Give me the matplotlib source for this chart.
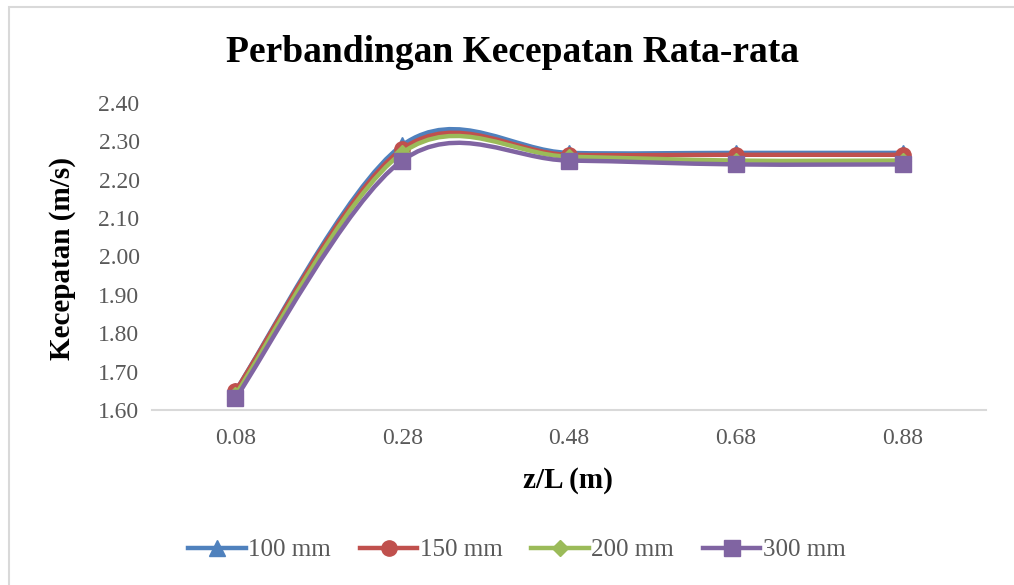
import numpy as np
import matplotlib
matplotlib.use("Agg")
import matplotlib.pyplot as plt
from matplotlib.patches import Rectangle
from matplotlib.path import Path
from matplotlib.patches import PathPatch

# Data
positions = [0.08, 0.28, 0.48, 0.68, 0.88]
tick_labels = ["0.08", "0.28", "0.48", "0.68", "0.88"]
v_100 = [1.65, 2.29, 2.27, 2.27, 2.27]
v_150 = [1.65, 2.28, 2.265, 2.265, 2.265]
v_200 = [1.64, 2.27, 2.26, 2.25, 2.25]
v_300 = [1.63, 2.25, 2.25, 2.24, 2.24]
series_names = ["100 mm", "150 mm", "200 mm", "300 mm"]

W, H = 1014, 585
fig = plt.figure(figsize=(W / 100, H / 100), dpi=100)
fig.patch.set_facecolor("white")

# outer chart frame
fig.patches.append(Rectangle((9 / W, -0.1), 1.2, 1 - 7 / H + 0.1, transform=fig.transFigure,
                             fill=False, edgecolor="#d9d9d9", linewidth=1.5))

ax = fig.add_axes([152 / W, 1 - 410 / H, (986 - 152) / W, (410 - 103) / H])
ax.set_xlim(-0.02, 0.98)
ax.set_ylim(1.60, 2.40)

serif = ["Liberation Serif", "DejaVu Serif"]
gray = "#595959"


def smooth_path(xs, ys):
    """Cubic Bezier path through points (Catmull-Rom style smoothing)."""
    pts = np.column_stack([xs, ys]).astype(float)
    n = len(pts)
    verts = [pts[0]]
    codes = [Path.MOVETO]
    for i in range(n - 1):
        p0 = pts[i - 1] if i > 0 else pts[i]
        p1 = pts[i]
        p2 = pts[i + 1]
        p3 = pts[i + 2] if i + 2 < n else pts[i + 1]
        c1 = p1 + (p2 - p0) / 6.0
        c2 = p2 - (p3 - p1) / 6.0
        verts += [c1, c2, p2]
        codes += [Path.CURVE4] * 3
    return Path(verts, codes)


colors = ["#4F81BD", "#C0504D", "#9BBB59", "#8064A2"]
markers = ["^", "o", "D", "s"]
msizes = [11, 11, 8, 11]
data = [v_100, v_150, v_200, v_300]

handles = []
for k, (vals, c, m, ms, name) in enumerate(zip(data, colors, markers, msizes, series_names)):
    patch = PathPatch(smooth_path(positions, vals), facecolor="none", edgecolor=c,
                      linewidth=3.2, zorder=2 + k, capstyle="round", joinstyle="round")
    ax.add_patch(patch)
    ax.plot(positions, vals, linestyle="none", marker=m, markersize=ms, color=c,
            markeredgecolor=c, zorder=2 + k)
    h, = ax.plot([], [], color=c, linewidth=3.2, marker=m, markersize=ms,
                 markeredgecolor=c, label=name)
    handles.append(h)

ax.set_xticks(positions)
ax.set_xticklabels(tick_labels)
yt = np.round(np.arange(1.60, 2.401, 0.10), 2)
ax.set_yticks(yt)
ax.set_yticklabels([f"{v:.2f}" for v in yt])

for s in ["top", "right", "left"]:
    ax.spines[s].set_visible(False)
ax.spines["bottom"].set_color("#d9d9d9")
ax.spines["bottom"].set_linewidth(1.5)
ax.tick_params(axis="both", length=0, labelsize=17, labelcolor=gray)
ax.tick_params(axis="x", pad=13)
ax.tick_params(axis="y", pad=9)
for lbl in ax.get_xticklabels() + ax.get_yticklabels():
    lbl.set_fontfamily(serif)

fig.text(512 / W, 1 - 52 / H, "Perbandingan Kecepatan Rata-rata", ha="center", va="center",
         fontsize=27, fontweight="bold", family=serif, color="black")
fig.text(568 / W, 1 - 480 / H, "z/L (m)", ha="center", va="center",
         fontsize=21, fontweight="bold", family=serif, color="black")
fig.text(62 / W, 1 - 258 / H, "Kecepatan (m/s)", ha="center", va="center", rotation=90,
         fontsize=21, fontweight="bold", family=serif, color="black")

leg = fig.legend(handles=handles, loc="center", bbox_to_anchor=(517 / W, 1 - 550 / H),
                 ncol=4, frameon=False, handlelength=2.3, columnspacing=1.15,
                 handletextpad=0.1, prop={"family": serif, "size": 18})
for t in leg.get_texts():
    t.set_color(gray)

fig.savefig("out.png", dpi=100, facecolor="white")
